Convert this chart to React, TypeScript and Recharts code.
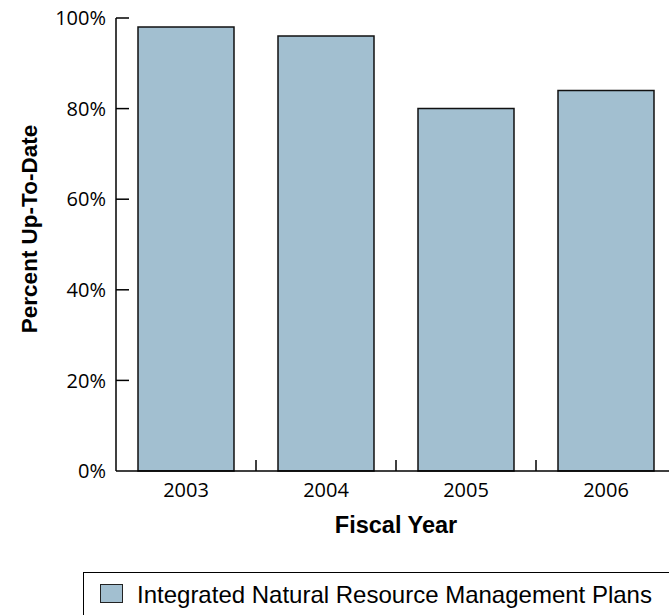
import { Bar, BarChart, Legend, ReferenceLine, XAxis, YAxis } from "recharts";

const years = ["2003", "2004", "2005", "2006"];
const upToDate = [98, 96, 80, 84];
const pctTicks = [0, 20, 40, 60, 80, 100];
const seriesName = "Integrated Natural Resource Management Plans";

const data = years.map((year, i) => ({ year, pct: upToDate[i] }));

const BAR_FILL = "#a2bfd0";
const INK = "#000";
const TICK_FONT = "'Open Sans', sans-serif";
const TITLE_FONT = "Arial, 'Liberation Sans', sans-serif";

const X_MARGIN = 12;

// year label centred in its band, tick mark up from the axis at the band boundary
function YearTick(props: any) {
  const { x, y, payload, index, width, visibleTicksCount } = props;
  const band = width / visibleTicksCount;
  const axisY = y - X_MARGIN;
  const last = index >= visibleTicksCount - 1;
  return (
    <g>
      {!last && (
        <line
          x1={x + band / 2}
          x2={x + band / 2}
          y1={axisY}
          y2={axisY - 11}
          stroke={INK}
          strokeWidth={1.5}
        />
      )}
      <text
        x={x}
        y={y}
        dy="0.71em"
        textAnchor="middle"
        fill={INK}
        fontSize={20}
        fontFamily={TICK_FONT}
      >
        {payload.value}
      </text>
    </g>
  );
}

function PlanLegend() {
  return (
    <div
      style={{
        position: "relative",
        width: 640,
        height: 60,
        border: `1.5px solid ${INK}`,
        boxSizing: "border-box",
        background: "#fff",
      }}
    >
      <div
        style={{
          position: "absolute",
          left: 16,
          top: 11,
          width: 23,
          height: 19,
          boxSizing: "border-box",
          border: "1.5px solid #222",
          background: BAR_FILL,
        }}
      />
      <span
        style={{
          position: "absolute",
          left: 53,
          top: 10,
          fontFamily: TITLE_FONT,
          fontSize: 24,
          lineHeight: "24px",
          color: INK,
          whiteSpace: "nowrap",
        }}
      >
        {seriesName}
      </span>
    </div>
  );
}

export default function App() {
  return (
    <div
      style={{
        position: "fixed",
        left: 0,
        top: 0,
        width: 669,
        height: 615,
        overflow: "hidden",
        background: "#fff",
      }}
    >
      <div style={{ position: "absolute", left: 8, top: 8 }}>
        <BarChart
          width={680}
          height={640}
          data={data}
          margin={{ top: 10, right: 12, bottom: 115, left: 0 }}
        >
          <XAxis
            dataKey="year"
            height={62}
            tickLine={false}
            tickSize={0}
            tickMargin={X_MARGIN}
            interval={0}
            axisLine={{ stroke: INK, strokeWidth: 1.5 }}
            tick={<YearTick />}
            label={{
              value: "Fiscal Year",
              position: "insideBottom",
              offset: 0,
              fill: INK,
              fontSize: 23.5,
              fontWeight: "bold",
              fontFamily: TITLE_FONT,
            }}
          />
          <YAxis
            width={108}
            domain={[0, 100]}
            ticks={pctTicks}
            interval={0}
            tickFormatter={(v) => `${v}%`}
            tickLine={false}
            tickSize={0}
            tickMargin={10}
            axisLine={{ stroke: INK, strokeWidth: 1.5 }}
            tick={{ fill: INK, fontSize: 20, fontFamily: TICK_FONT }}
            label={{
              value: "Percent Up-To-Date",
              angle: -90,
              position: "center",
              dx: -33,
              dy: -15.5,
              fill: INK,
              fontSize: 22.5,
              fontWeight: "bold",
              fontFamily: TITLE_FONT,
            }}
          />
          {/* inward y tick marks: only the first 13px of each line is drawn */}
          {pctTicks
            .filter((v) => v > 0)
            .map((v) => (
              <ReferenceLine
                key={v}
                y={v}
                stroke={INK}
                strokeWidth={1.5}
                strokeDasharray="13 2000"
                ifOverflow="extendDomain"
              />
            ))}
          <Legend
            verticalAlign="middle"
            align="center"
            content={() => <PlanLegend />}
            wrapperStyle={{ top: 564, left: 75, width: 640 }}
          />
          <Bar
            dataKey="pct"
            name={seriesName}
            barSize={96}
            fill={BAR_FILL}
            stroke="#111"
            strokeWidth={1.5}
            isAnimationActive={false}
          />
        </BarChart>
      </div>
    </div>
  );
}
